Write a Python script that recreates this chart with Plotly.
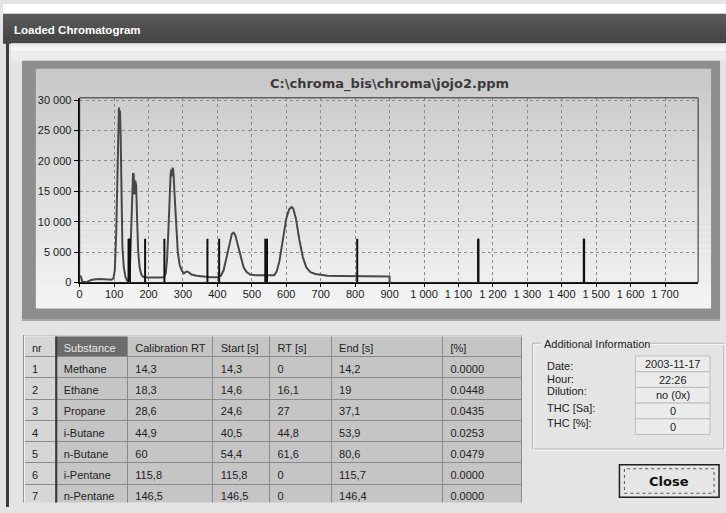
import plotly.graph_objects as go

# ---------------- data ----------------
# chromatogram signal (time axis in tenths of a second)
trace_time = [0, 4, 8, 20, 30, 40, 60, 80, 92, 98, 102, 106, 109, 112, 114, 115.5, 117, 119, 121, 124,
              128, 133, 138, 142, 146, 149, 152, 155, 157, 159, 161, 164, 167, 170, 174, 179, 185,
              200, 230, 245, 250, 254, 258, 261, 264, 266, 268, 270, 272, 276, 280, 285, 290, 296,
              303, 310, 316, 325, 340, 360, 380, 400, 410, 418, 426, 434, 442, 447, 452, 460, 468,
              476, 485, 495, 510, 540, 565, 572, 580, 590, 600, 608, 615, 620, 628, 638, 648, 658,
              670, 685, 700, 720, 760, 850, 900, 900]
trace_signal = [1100, 900, 100, 50, 350, 500, 550, 500, 450, 700, 2000, 8000, 18000, 27000, 28800, 25000,
                28300, 24000, 14000, 6000, 2500, 900, 300, 400, 2500, 8000, 15000, 18000, 17800, 14500,
                16800, 16000, 10000, 5000, 2500, 1300, 900, 800, 800, 850, 1500, 4000, 9000, 14500,
                17800, 18600, 17500, 18900, 18400, 14000, 9000, 5000, 3000, 2000, 1500, 1800, 1700,
                1300, 1100, 950, 850, 850, 1100, 2000, 4000, 6500, 8000, 8200, 7800, 6000, 4000, 2500,
                1700, 1300, 1200, 1150, 1200, 1800, 3500, 7000, 10500, 12000, 12400, 12200, 10500, 7000,
                4200, 2500, 1700, 1400, 1250, 1100, 1050, 1000, 1000, 0]

chart_title = "C:\\chroma_bis\\chroma\\jojo2.ppm"
window_title = "Loaded Chromatogram"

table_headers = ["nr", "Substance", "Calibration RT", "Start [s]", "RT [s]", "End [s]", "[%]"]
nr = [1, 2, 3, 4, 5, 6, 7]
substances = ["Methane", "Ethane", "Propane", "i-Butane", "n-Butane", "i-Pentane", "n-Pentane"]
calib_rt = [14.3, 18.3, 28.6, 44.9, 60, 115.8, 146.5]
start_s = [14.3, 14.6, 24.6, 40.5, 54.4, 115.8, 146.5]
rt_s = [0, 16.1, 27, 44.8, 61.6, 0, 0]
end_s = [14.2, 19, 37.1, 53.9, 80.6, 115.7, 146.4]
pct = [0.0, 0.0448, 0.0435, 0.0253, 0.0479, 0.0, 0.0]

info_title = "Additional Information"
info_labels = ["Date:", "Hour:", "Dilution:", "THC [Sa]:", "THC [%]:"]
info_values = ["2003-11-17", "22:26", "no (0x)", "0", "0"]
button_text = "Close"

TIME_SCALE = 10          # seconds -> chart units
MARKER_HEIGHT = 7200     # height of peak start/end markers
x_ticks = list(range(0, 1800, 100))
y_ticks = list(range(0, 30001, 5000))

# ---------------- helpers ----------------
W, H = 726, 513
def px(x):
    return x / W
def py(y):
    return 1 - y / H

def num(v):
    return ("%g" % v).replace(".", ",")

def nb(s):
    return s.replace(" ", "\u00a0")

def mix(c0, c1, t):
    a = [int(c0[i:i + 2], 16) for i in (1, 3, 5)]
    b = [int(c1[i:i + 2], 16) for i in (1, 3, 5)]
    return "#%02x%02x%02x" % tuple(round(a[k] + (b[k] - a[k]) * t) for k in range(3))

shapes = []
def rect(x0, y0, x1, y1, fill=None, line=None, lw=0, dash=None, layer="below"):
    d = dict(type="rect", xref="paper", yref="paper", x0=px(x0), x1=px(x1), y0=py(y1), y1=py(y0),
             layer=layer, line=dict(width=lw, color=line or "rgba(0,0,0,0)"))
    if dash:
        d["line"]["dash"] = dash
    if fill:
        d["fillcolor"] = fill
    shapes.append(d)

def hline(x0, x1, y, color, lw=1, layer="below"):
    shapes.append(dict(type="line", xref="paper", yref="paper", x0=px(x0), x1=px(x1), y0=py(y), y1=py(y),
                       layer=layer, line=dict(color=color, width=lw)))

def vline(x, y0, y1, color, lw=1, layer="below"):
    shapes.append(dict(type="line", xref="paper", yref="paper", x0=px(x), x1=px(x), y0=py(y0), y1=py(y1),
                       layer=layer, line=dict(color=color, width=lw)))

def gradient(x0, y0, x1, y1, c0, c1, n):
    step = (y1 - y0) / n
    for i in range(n):
        rect(x0, y0 + i * step, x1, y0 + (i + 1) * step + 0.6, fill=mix(c0, c1, i / (n - 1)))

# ---------------- window chrome ----------------
rect(0, 0, W, H, fill="#e4e4e4")
rect(0, 0, W, 10, fill="#ffffff")
gradient(0, 10, W, 40, "#5a5a5a", "#444444", 10)
vline(4.5, 40, H, "#3c3c3c", 3)
rect(8, 40, W, 58, fill="#ececec")
hline(8, W, 46, "#f6f6f6", 4)

# chart panel
rect(19, 58, 720, 323, fill="#8e8e8e")
gradient(33, 66, 711, 310, "#c8c8c8", "#f4f4f4", 40)
hline(19, 720, 322, "#b0b0b0", 1)

# additional information group box
rect(532, 346, 724, 454, line="#a4a4a4", lw=1)
rect(533, 347, 725, 455, line="#fafafa", lw=1)
rect(540, 340, 650, 354, fill="#e4e4e4")
box_top = 359
box_h = 16
for i in range(len(info_values)):
    rect(635, box_top + i * box_h, 710, box_top + (i + 1) * box_h, fill="#ebebeb", line="#bdbdbd", lw=1)

# close button
rect(619, 470, 719, 503, fill="#e6e6e6", line="#1e1e1e", lw=1.5)
rect(624, 474, 714, 499, line="#555555", lw=1, dash="dot")

# plot frame (top/right)
rect(77, 95.7, 698, 284, line="#2a2a2a", lw=1, layer="above")

# table decorations drawn above the table
vline(53.5, 338, 508.5, "#3a3a3a", 2, layer="above")
hline(21, 522, 338.5, "#f4f4f4", 1, layer="above")
vline(21.5, 338, 508.5, "#f4f4f4", 1, layer="above")

# ---------------- traces ----------------
fig = go.Figure()

mk_x, mk_y = [], []
for s, e in zip(start_s, end_s):
    for t in (s, e):
        mk_x += [t * TIME_SCALE, t * TIME_SCALE, None]
        mk_y += [0, MARKER_HEIGHT, None]

fig.add_trace(go.Scatter(x=trace_time, y=trace_signal, mode="lines",
                         line=dict(color="#484848", width=2), hoverinfo="skip", showlegend=False))
fig.add_trace(go.Scatter(x=mk_x, y=mk_y, mode="lines",
                         line=dict(color="#111111", width=2), hoverinfo="skip", showlegend=False))

# ---------------- table ----------------
cols = [[str(v) for v in nr], substances, [num(v) for v in calib_rt], [num(v) for v in start_s],
        [num(v) for v in rt_s], [num(v) for v in end_s], ["%.4f" % v for v in pct]]
cell_gray = "#c5c5c5"
fig.add_trace(go.Table(
    domain=dict(x=[px(21), px(522)], y=[py(508.5), py(338)]),
    columnwidth=[32, 72, 86, 57, 62, 112, 80],
    header=dict(values=[nb(h) for h in table_headers], align="left", height=21,
                fill=dict(color=["#d6d6d6", "#6c6c6c", cell_gray, cell_gray, cell_gray, cell_gray, cell_gray]),
                font=dict(family="Liberation Sans, Arial, sans-serif", size=11,
                          color=["#222222", "#e6e6e6", "#222222", "#222222", "#222222", "#222222", "#222222"]),
                line=dict(color="#8a8a8a", width=1)),
    cells=dict(values=cols, align="left", height=21.3,
               fill=dict(color=["#d6d6d6", cell_gray, cell_gray, cell_gray, cell_gray, cell_gray, cell_gray]),
               font=dict(family="Liberation Sans, Arial, sans-serif", size=11, color="#222222"),
               line=dict(color="#8a8a8a", width=1)),
))

# ---------------- annotations ----------------
ann = []
def text(x, y, s, size=11, color="#222222", family="Liberation Sans, Arial, sans-serif",
         xanchor="left", bold=False):
    ann.append(dict(x=px(x), y=py(y), xref="paper", yref="paper", text=("<b>%s</b>" % s) if bold else s,
                    showarrow=False, xanchor=xanchor, yanchor="middle",
                    font=dict(size=size, color=color, family=family)))

text(9, 27, window_title, size=11.5, color="#ffffff",
     family="Liberation Sans Narrow, Liberation Sans, Arial, sans-serif", bold=True)
text(388, 82, chart_title, size=13, color="#3a3a3a", family="DejaVu Sans, Verdana, sans-serif",
     xanchor="center", bold=True)
text(541, 347, info_title)
label_y = [369, 382, 395, 412, 427]
for i, (lab, val) in enumerate(zip(info_labels, info_values)):
    text(544, label_y[i], lab)
    text(672.5, box_top + i * box_h + box_h / 2, val, xanchor="center")
text(669, 487, button_text, size=13, color="#111111", family="DejaVu Sans, Verdana, sans-serif",
     xanchor="center", bold=True)

# ---------------- layout ----------------
axis_font = dict(family="Liberation Sans, Arial, sans-serif", size=11, color="#1a1a1a")
fig.update_layout(
    width=W, height=H, margin=dict(l=0, r=0, t=0, b=0),
    paper_bgcolor="#e4e4e4", plot_bgcolor="rgba(0,0,0,0)",
    separators=", ",
    shapes=shapes, annotations=ann, showlegend=False,
    xaxis=dict(domain=[px(77), px(698)], range=[0, 1796], tickvals=x_ticks, tickformat=",d",
               showgrid=True, gridcolor="#8c8c8c", griddash="3px,3px", gridwidth=1,
               showline=True, linecolor="#000000", linewidth=2, ticks="outside", ticklen=3,
               tickcolor="#000000", tickfont=axis_font, zeroline=False, fixedrange=True,
               ticklabelstandoff=-3),
    yaxis=dict(domain=[py(284), py(95.7)], range=[0, 30400], tickvals=y_ticks, tickformat=",d",
               showgrid=True, gridcolor="#8c8c8c", griddash="3px,3px", gridwidth=1,
               showline=True, linecolor="#000000", linewidth=2, ticks="outside", ticklen=4,
               tickcolor="#000000", tickfont=axis_font, zeroline=False, fixedrange=True),
)

fig.write_html("out.html", config=dict(displayModeBar=False),
               post_script="document.body.style.margin='0';document.body.style.overflow='hidden';")
